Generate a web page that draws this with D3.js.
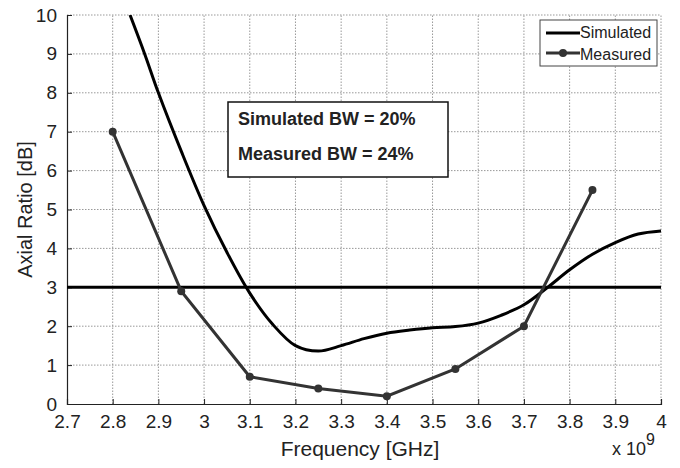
<!DOCTYPE html>
<html>
<head>
<meta charset="utf-8">
<script src="https://cdn.jsdelivr.net/npm/d3@7"></script>
<style>
  body { margin: 0; background: #fff; }
  text { font-family: "Liberation Sans", Arial, sans-serif; }
</style>
</head>
<body>
<div id="chart"></div>
<script>
// simulated axial ratio (freq in GHz, AR in dB)
const simFreq = [2.838, 2.87, 2.9, 2.95, 3.0, 3.05, 3.1, 3.15, 3.2, 3.25, 3.3, 3.35, 3.4, 3.45, 3.5, 3.55, 3.6, 3.65, 3.7, 3.75, 3.8, 3.85, 3.9, 3.95, 4.0];
const simAR   = [10.0, 9.0, 8.0, 6.5, 5.1, 3.9, 2.85, 2.05, 1.5, 1.36, 1.5, 1.68, 1.82, 1.9, 1.96, 1.99, 2.08, 2.28, 2.55, 2.98, 3.45, 3.85, 4.15, 4.37, 4.45];

// measured axial ratio
const measFreq = [2.8, 2.95, 3.1, 3.25, 3.4, 3.55, 3.7, 3.85];
const measAR   = [7.0, 2.9, 0.7, 0.4, 0.2, 0.9, 2.0, 5.5];

const threshold = [3];
const xTicks = [2.7, 2.8, 2.9, 3.0, 3.1, 3.2, 3.3, 3.4, 3.5, 3.6, 3.7, 3.8, 3.9, 4.0];
const yTicks = [0, 1, 2, 3, 4, 5, 6, 7, 8, 9, 10];
const notes = ["Simulated BW = 20%", "Measured BW = 24%"];

const W = 680, H = 468;
const m = {left: 67, right: 19, top: 15, bottom: 64};

const svg = d3.select("#chart").append("svg")
    .attr("width", W).attr("height", H);

const x = d3.scaleLinear().domain([2.7, 4.0]).range([m.left, W - m.right]);
const y = d3.scaleLinear().domain([0, 10]).range([H - m.bottom, m.top]);

// clip
svg.append("clipPath").attr("id", "clip").append("rect")
    .attr("x", m.left).attr("y", m.top)
    .attr("width", x(4.0) - m.left).attr("height", y(0) - m.top);

// grid
const grid = svg.append("g").attr("stroke", "#999").attr("stroke-width", 1)
    .attr("stroke-dasharray", "1.5,1.5");
grid.selectAll(".gx").data(xTicks.slice(1)).enter().append("line")
    .attr("x1", d => x(d)).attr("x2", d => x(d))
    .attr("y1", y(0)).attr("y2", y(10));
grid.selectAll(".gy").data(yTicks.slice(1)).enter().append("line")
    .attr("x1", x(2.7)).attr("x2", x(4.0))
    .attr("y1", d => y(d)).attr("y2", d => y(d));

// axes
const xAxis = d3.axisBottom(x).tickValues(xTicks).tickSize(-5).tickPadding(11)
    .tickFormat(d => d3.format("")(+d.toFixed(1)));
const gx = svg.append("g").attr("transform", `translate(0,${y(0)})`).call(xAxis);
gx.select(".domain").attr("stroke", "#222").attr("stroke-width", 1.2);
gx.selectAll(".tick line").attr("stroke", "#222");
gx.selectAll("text").attr("font-size", 19).attr("fill", "#222")
    .attr("font-family", "Liberation Sans, Arial, sans-serif");

const yAxis = d3.axisLeft(y).tickValues(yTicks).tickSize(-5).tickPadding(10);
const gy = svg.append("g").attr("transform", `translate(${m.left},0)`).call(yAxis);
gy.select(".domain").attr("stroke", "#222").attr("stroke-width", 1.2);
gy.selectAll(".tick line").attr("stroke", "#222");
gy.selectAll("text").attr("font-size", 19).attr("fill", "#222")
    .attr("font-family", "Liberation Sans, Arial, sans-serif");

// labels
svg.append("text").attr("x", 360).attr("y", 456).attr("text-anchor", "middle")
    .attr("font-size", 21).attr("fill", "#222").text("Frequency [GHz]");
svg.append("text").attr("transform", `translate(32,${(y(0) + y(10)) / 2}) rotate(-90)`)
    .attr("text-anchor", "middle").attr("font-size", 20).attr("fill", "#222")
    .text("Axial Ratio [dB]");
const exp = svg.append("text").attr("x", 612).attr("y", 455).attr("font-size", 18).attr("fill", "#222");
exp.append("tspan").text("x 10");
exp.append("tspan").attr("dy", -10).attr("font-size", 16).text("9");

const plot = svg.append("g").attr("clip-path", "url(#clip)");

// 3 dB line
plot.selectAll(".thr").data(threshold).enter().append("line")
    .attr("x1", x(2.7)).attr("x2", x(4.0))
    .attr("y1", d => y(d)).attr("y2", d => y(d))
    .attr("stroke", "#000").attr("stroke-width", 3);

// simulated
const simData = simFreq.map((f, i) => [f, simAR[i]]);
plot.append("path").datum(simData)
    .attr("fill", "none").attr("stroke", "#000").attr("stroke-width", 3)
    .attr("d", d3.line().x(d => x(d[0])).y(d => y(d[1])).curve(d3.curveCatmullRom.alpha(0.5)));

// measured
const measData = measFreq.map((f, i) => [f, measAR[i]]);
plot.append("path").datum(measData)
    .attr("fill", "none").attr("stroke", "#333").attr("stroke-width", 3)
    .attr("d", d3.line().x(d => x(d[0])).y(d => y(d[1])));
svg.selectAll(".pt").data(measData).enter().append("circle")
    .attr("cx", d => x(d[0])).attr("cy", d => y(d[1])).attr("r", 4)
    .attr("fill", "#333");

// annotation box
const ann = svg.append("g");
ann.append("rect").attr("x", 228).attr("y", 102).attr("width", 220).attr("height", 75)
    .attr("fill", "#fff").attr("stroke", "#111").attr("stroke-width", 1.5);
ann.selectAll("text").data(notes).enter().append("text")
    .attr("x", 238).attr("y", (d, i) => 125 + i * 35)
    .attr("font-size", 18).attr("font-weight", "bold").attr("fill", "#222")
    .text(d => d);

// legend
const lg = svg.append("g");
lg.append("rect").attr("x", 540).attr("y", 20).attr("width", 117).attr("height", 46)
    .attr("fill", "#fff").attr("stroke", "#444").attr("stroke-width", 1);
lg.append("line").attr("x1", 546).attr("x2", 580).attr("y1", 33).attr("y2", 33)
    .attr("stroke", "#000").attr("stroke-width", 3);
lg.append("line").attr("x1", 546).attr("x2", 580).attr("y1", 53).attr("y2", 53)
    .attr("stroke", "#333").attr("stroke-width", 3);
lg.append("circle").attr("cx", 563).attr("cy", 53).attr("r", 4).attr("fill", "#333");
lg.append("text").attr("x", 580).attr("y", 38).attr("font-size", 16).attr("fill", "#222").text("Simulated");
lg.append("text").attr("x", 580).attr("y", 60).attr("font-size", 16).attr("fill", "#222").text("Measured");
</script>
</body>
</html>
